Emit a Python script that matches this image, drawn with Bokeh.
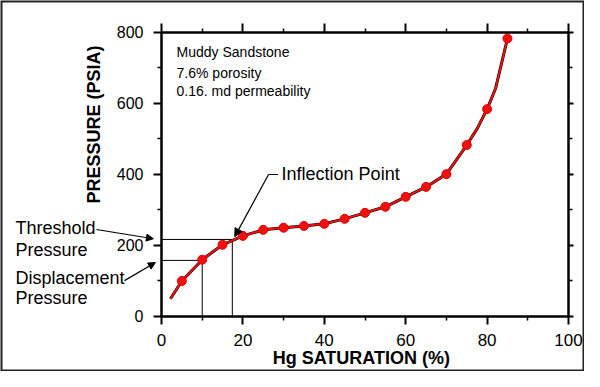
from bokeh.plotting import figure
from bokeh.models import (Range1d, LinearAxis, FixedTicker, Label, Arrow, NormalHead, BoxAnnotation)
from bokeh.embed import file_html
from bokeh.resources import INLINE

# ---- data ----
hg_saturation = [5, 10, 15, 20, 25, 30, 35, 40, 45, 50, 55, 60, 65, 70, 75, 80, 85]
pressure = [100, 160, 202, 227, 244, 250, 255, 261, 275, 292, 309, 337, 365, 401, 483, 584, 783]

curve_sat = [2.2, 5, 10, 15, 20, 25, 30, 35, 40, 45, 50, 55, 60, 65, 70, 75, 77.6, 80, 82.1, 85]
curve_pressure = [50, 100, 160, 202, 227, 244, 250, 255, 261, 275, 292, 309, 337, 365, 401, 483, 530, 584, 643, 783]

threshold_sat = 17.4
threshold_pressure = 217
displacement_sat = 10
displacement_pressure = 158

x_ticks = [0, 20, 40, 60, 80, 100]
x_minor = [10, 30, 50, 70, 90]
y_ticks = [0, 200, 400, 600, 800]
y_minor = [100, 300, 500, 700]

info_lines = ["Muddy Sandstone", "7.6% porosity", "0.16. md permeability"]

FONT = "Liberation Sans"

# the frame covers the whole canvas; axes are pinned at the data edges
p = figure(width=584, height=371, x_range=Range1d(-39.56, 103.93), y_range=Range1d(-155.0, 890.1),
           output_backend="svg", toolbar_location=None,
           min_border_left=0, min_border_right=0, min_border_top=0, min_border_bottom=0)
p.outline_line_color = None
p.xgrid.visible = False
p.ygrid.visible = False
p.background_fill_color = "white"
p.border_fill_color = "white"

def style_axis(ax):
    ax.axis_line_width = 2.5
    ax.axis_line_color = "black"
    ax.major_tick_line_width = 2
    ax.major_tick_line_color = "black"
    ax.major_tick_out = 8
    ax.major_tick_in = 0
    ax.minor_tick_line_width = 1.5
    ax.minor_tick_line_color = "black"
    ax.minor_tick_out = 4
    ax.minor_tick_in = 0
    ax.major_label_text_font = FONT
    ax.major_label_text_font_size = "16px"
    ax.major_label_text_color = "black"

bottom = p.xaxis[0]
left = p.yaxis[0]
bottom.ticker = FixedTicker(ticks=x_ticks, minor_ticks=x_minor)
left.ticker = FixedTicker(ticks=y_ticks, minor_ticks=y_minor)
style_axis(bottom)
style_axis(left)
bottom.fixed_location = 0
bottom.bounds = (0, 100)
left.fixed_location = 0
left.bounds = (0, 800)
bottom.major_label_text_font_size = "17px"
bottom.major_label_standoff = 10
left.major_label_standoff = 10

top = LinearAxis(ticker=FixedTicker(ticks=x_ticks, minor_ticks=x_minor), fixed_location=800, bounds=(0, 100))
right = LinearAxis(ticker=FixedTicker(ticks=y_ticks, minor_ticks=y_minor), fixed_location=100, bounds=(0, 800))
for ax in (top, right):
    style_axis(ax)
    ax.major_label_text_color = None
    ax.major_tick_out = 9 if ax is top else 5
p.add_layout(top, "above")
p.add_layout(right, "right")

# outer border (frame = whole canvas, half of the line shows)
p.add_layout(BoxAnnotation(fill_color=None, fill_alpha=0, line_color="#222222", line_alpha=1.0, line_width=4))

# reference lines for threshold / displacement
p.line([0, threshold_sat], [threshold_pressure, threshold_pressure], line_color="black", line_width=1)
p.line([threshold_sat, threshold_sat], [0, threshold_pressure], line_color="black", line_width=1)
p.line([0, displacement_sat], [displacement_pressure, displacement_pressure], line_color="black", line_width=1)
p.line([displacement_sat, displacement_sat], [0, displacement_pressure], line_color="black", line_width=1)

# curve
p.line(curve_sat, curve_pressure, line_color="black", line_width=3)
p.line(curve_sat, curve_pressure, line_color="#f01010", line_width=2)
p.scatter(hg_saturation, pressure, size=9, fill_color="#f01010", line_color="#e00000")

# info text
for t, yy in zip(info_lines, [746, 687, 634]):
    p.add_layout(Label(x=3.7, y=yy, text=t, text_font=FONT, text_font_size="14px",
                       text_color="black", text_baseline="alphabetic"))

# axis titles
p.add_layout(Label(x=-16.7, y=541, text="PRESSURE (PSIA)", angle=1.5708, text_align="center",
                   text_baseline="alphabetic", text_font=FONT, text_font_style="bold",
                   text_font_size="18px", text_color="black"))
p.add_layout(Label(x=49.1, y=-118, text="Hg SATURATION (%)", text_align="center",
                   text_baseline="alphabetic", text_font=FONT, text_font_style="bold",
                   text_font_size="18px", text_color="black"))

# side labels
side = [("Threshold", 249), ("Pressure", 187), ("Displacement", 108), ("Pressure", 52)]
for t, yy in side:
    p.add_layout(Label(x=-35.9, y=yy, text=t, text_font=FONT, text_font_size="18px",
                       text_color="black", text_baseline="alphabetic"))

p.add_layout(Arrow(x_start=-16, y_start=245, x_end=-2, y_end=threshold_pressure + 2,
                   line_width=1.2, end=NormalHead(size=7, fill_color="black", line_color="black")))
p.add_layout(Arrow(x_start=-9.1, y_start=101, x_end=-1.5, y_end=displacement_pressure - 6,
                   line_width=1.2, end=NormalHead(size=7, fill_color="black", line_color="black")))

# inflection point
p.add_layout(Label(x=29.5, y=401, text="Inflection Point", text_font=FONT, text_font_size="18px",
                   text_color="black", text_baseline="alphabetic"))
p.line([26.3, 28.6], [400, 400], line_color="black", line_width=1.2)
p.add_layout(Arrow(x_start=26.3, y_start=400, x_end=threshold_sat + 0.6, y_end=threshold_pressure + 8,
                   line_width=1.2, end=NormalHead(size=8, fill_color="black", line_color="black")))

open("out.html", "w").write(file_html(p, INLINE))
